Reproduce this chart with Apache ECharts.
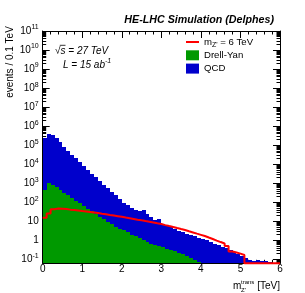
<!DOCTYPE html>
<html><head><meta charset="utf-8">
<script src="https://cdn.jsdelivr.net/npm/echarts@6/dist/echarts.min.js"></script>
<style>html,body{margin:0;padding:0;background:#fff}#c{width:305px;height:293px}</style>
</head><body><div id="c"></div>
<script>
// ---- data ----
const binEdges = [0,0.1,0.2,0.3,0.4,0.5,0.6,0.7,0.8,0.9,
  1,1.1,1.2,1.3,1.4,1.5,1.6,1.7,1.8,1.9,
  2,2.1,2.2,2.3,2.4,2.5,2.6,2.7,2.8,2.9,
  3,3.1,3.2,3.3,3.4,3.5,3.6,3.7,3.8,3.9,
  4,4.1,4.2,4.3,4.4,4.5,4.6,4.7,4.8,4.9,
  5,5.1,5.2,5.3,5.4,5.5,5.6,5.7,5.8,5.9,6];

const dyValues = [440,1060,800,610,440,320,230,165,120,88,
  65,46,33,24,17.5,12.5,9.2,6.8,5.2,4.0,
  3.3,2.6,2.0,1.6,1.25,1.0,0.82,0.68,0.56,0.48,
  0.42,0.36,0.31,0.26,0.22,0.19,0.15,0.12,0.095,0.075,
  0,0,0,0,0,0,0,0,0,0,
  0,0,0,0,0,0,0,0,0,0];

const qcdValues = [239000,383000,359000,249000,145600,84300,51800,31800,20900,13700,
  7900,5150,3170,2080,1280,838,551,358,235,153,
  93.7,68.4,48,37.4,33.2,40,23.2,17.0,11.0,13.4,
  7.2,5.9,4.8,3.9,3.04,2.53,2.12,1.77,1.59,1.33,
  1.17,1.03,0.81,0.68,0.56,0.47,0.39,0.31,0.24,0.19,
  0.149,0.117,0.098,0.086,0.092,0.081,0.086,0.072,0,0];

const signalValues = [15.5,26,43,46.7,46,44,41,39,36.7,34.5,
  32.5,30.6,28.8,27.1,24.9,23.2,21.5,20,18.6,17.1,
  15.7,14.5,13.3,12.2,11.2,10.3,9.5,8.7,7.9,7.2,
  6.3,5.6,5.0,4.4,3.9,3.5,3.0,2.6,2.24,1.94,
  1.68,1.40,1.17,0.97,0.81,0.68,0.50,0.26,0.23,0.20,
  0.17,0,0,0,0,0,0,0,0,0];

const yMajorTicks = [0.1,1,10,1e2,1e3,1e4,1e5,1e6,1e7,1e8,1e9,1e10,1e11];
const yMinorFactors = [2,3,4,5,6,7,8,9];
const xTickLabels = ['0','1','2','3','4','5','6'];

const seriesNames = { signal: "mZ' = 6 TeV", dy: 'Drell-Yan', qcd: 'QCD' };

// ---- setup ----
const FONT = '"Liberation Sans", Arial, Helvetica, sans-serif';
const yMin = 0.062, yMax = 1e11;

const yMinorTicks = [0.07, 0.08, 0.09];
yMajorTicks.slice(0, -1).forEach(d => yMinorFactors.forEach(f => yMinorTicks.push(f * d)));

// histogram bins as [lowEdge, highEdge, bottom, top]; QCD stacked on Drell-Yan
const dyBins = dyValues.map((v, i) => [binEdges[i], binEdges[i + 1], 0, v]);
const qcdBins = qcdValues.map((v, i) => [binEdges[i], binEdges[i + 1], dyValues[i], dyValues[i] + v]);

// signal outline as a step line: one point per low edge plus the last high edge
const signalLine = binEdges.map((e, i) => {
  const v = signalValues[Math.min(i, signalValues.length - 1)];
  return [e, v > 0 ? v : yMin];
});

function yLabel(v) {
  const e = Math.round(Math.log10(v));
  if (Math.abs(Math.log10(v) - e) > 1e-6) return '';
  if (e === 0) return '1';
  if (e === 1) return '10';
  return '10{s|' + e + '}';
}

function histRender(color) {
  return function (params, api) {
    const x0 = api.value(0), x1 = api.value(1), lo = api.value(2), hi = api.value(3);
    if (!(hi > yMin) || !(hi > lo)) return null;
    const pTop = api.coord([x0, hi]);
    const pBot = api.coord([x1, Math.max(lo, yMin)]);
    const left = Math.round(pTop[0]), right = Math.round(pBot[0]);
    const top = Math.round(pTop[1]), bottom = Math.round(pBot[1]);
    return {
      type: 'rect',
      shape: { x: left, y: top, width: right - left, height: bottom - top },
      style: { fill: color }
    };
  };
}

const yBase = { type: 'log', logBase: 10, min: yMin, max: yMax, splitLine: { show: false }, minorTick: { show: false } };
const black = { color: '#000', width: 1 };

const yAxes = [
  Object.assign({}, yBase, { position: 'left',
    axisLine: { show: true, lineStyle: black },
    axisTick: { show: true, inside: true, length: 7, customValues: yMajorTicks, lineStyle: black },
    axisLabel: { show: true, customValues: yMajorTicks, formatter: yLabel, margin: 4, fontSize: 10, lineHeight: 14,
      fontFamily: FONT, color: '#000', rich: { s: { fontSize: 7, lineHeight: 7, verticalAlign: 'top', fontFamily: FONT, color: '#000' } } } }),
  Object.assign({}, yBase, { position: 'left', axisLine: { show: false },
    axisTick: { show: true, inside: true, length: 3.5, customValues: yMinorTicks, lineStyle: black },
    axisLabel: { show: false } }),
  Object.assign({}, yBase, { position: 'right', axisLine: { show: true, lineStyle: black },
    axisTick: { show: true, inside: true, length: 7, customValues: yMajorTicks, lineStyle: black },
    axisLabel: { show: false } }),
  Object.assign({}, yBase, { position: 'right', axisLine: { show: false },
    axisTick: { show: true, inside: true, length: 3.5, customValues: yMinorTicks, lineStyle: black },
    axisLabel: { show: false } })
];

const xBase = { type: 'value', min: 0, max: 6, interval: 1, splitLine: { show: false },
  axisLine: { show: true, onZero: false, lineStyle: black },
  axisTick: { show: true, inside: true, length: 7, lineStyle: black },
  minorTick: { show: true, splitNumber: 5, length: 3.5, lineStyle: black } };

const xAxes = [
  Object.assign({}, xBase, { position: 'bottom',
    axisLabel: { show: true, formatter: v => xTickLabels[Math.round(v)] || '', margin: 1, fontSize: 10, lineHeight: 10, fontFamily: FONT, color: '#000' } }),
  Object.assign({}, xBase, { position: 'top', axisLabel: { show: false } })
];

const GREEN = '#009900', BLUE = '#0000cc', RED = '#ff0000';
const lineIcon = 'path://M0,0h0.01v0.01h-0.01z M0,4.1h13v1.8h-13z M0,9.99h0.01v0.01h-0.01z';

const option = {
  animation: false,
  backgroundColor: '#fff',
  grid: { left: 42.7, right: 25, top: 31, bottom: 29.7, containLabel: false },
  xAxis: xAxes,
  yAxis: yAxes,
  legend: {
    orient: 'vertical', left: 186, top: 35.5, padding: 0, itemWidth: 13, itemHeight: 10, itemGap: 0.3,
    selectedMode: false,
    textStyle: { fontSize: 9.6, lineHeight: 13, fontFamily: FONT, color: '#000',
      rich: { sub: { fontSize: 7, lineHeight: 7, verticalAlign: 'bottom', fontFamily: FONT, color: '#000' } } },
    formatter: name => name === seriesNames.signal ? "m{sub|Z'} = 6 TeV" : name,
    data: [ { name: seriesNames.signal, icon: lineIcon }, { name: seriesNames.dy, icon: 'rect' }, { name: seriesNames.qcd, icon: 'rect' } ]
  },
  series: [
    { name: seriesNames.dy, type: 'custom', data: dyBins, renderItem: histRender(GREEN),
      encode: { x: [0, 1], y: [2, 3] }, xAxisIndex: 0, yAxisIndex: 0, color: GREEN, itemStyle: { color: GREEN },
      clip: true, silent: true, z: 2 },
    { name: seriesNames.qcd, type: 'custom', data: qcdBins, renderItem: histRender(BLUE),
      encode: { x: [0, 1], y: [2, 3] }, xAxisIndex: 0, yAxisIndex: 0, color: BLUE, itemStyle: { color: BLUE },
      clip: true, silent: true, z: 2 },
    { name: seriesNames.signal, type: 'line', step: 'end', symbol: 'none', data: signalLine,
      xAxisIndex: 0, yAxisIndex: 0, color: RED,
      lineStyle: { width: 2, color: RED }, itemStyle: { color: RED }, z: 5, clip: false, silent: true, emphasis: { disabled: true } }
  ],
  graphic: [
    { type: 'text', x: 274, y: 20, style: { text: 'HE-LHC Simulation (Delphes)', align: 'right', verticalAlign: 'middle',
        font: 'italic bold 10.7px ' + FONT, fill: '#000' } },
    { type: 'text', x: 55, y: 51, style: { text: '\u221As = 27 TeV', align: 'left', verticalAlign: 'middle',
        font: 'italic 10px ' + FONT, fill: '#000' } },
    { type: 'line', shape: { x1: 59.8, y1: 45.3, x2: 65.5, y2: 45.3 }, style: { stroke: '#000', lineWidth: 0.8 } },
    { type: 'text', x: 63, y: 65, style: { text: 'L = 15 ab{s|-1}', align: 'left', verticalAlign: 'middle',
        font: 'italic 10px ' + FONT, fill: '#000', lineHeight: 14,
        rich: { s: { fontSize: 7, lineHeight: 7, verticalAlign: 'top', fontStyle: 'italic', fontFamily: FONT, fill: '#000' } } } },
    { type: 'text', x: 10.5, y: 62, rotation: Math.PI / 2, style: { text: 'events / 0.1 TeV', align: 'center', verticalAlign: 'middle',
        font: '10px ' + FONT, fill: '#000' } },
    { type: 'text', x: 233, y: 286, style: { text: 'm', align: 'left', verticalAlign: 'middle', font: '10px ' + FONT, fill: '#000' } },
    { type: 'text', x: 241, y: 282.5, style: { text: 'trans', align: 'left', verticalAlign: 'middle', font: '6px ' + FONT, fill: '#000' } },
    { type: 'text', x: 241, y: 290, style: { text: "Z'", align: 'left', verticalAlign: 'middle', font: '6px ' + FONT, fill: '#000' } },
    { type: 'text', x: 280, y: 286, style: { text: '[TeV]', align: 'right', verticalAlign: 'middle', font: '10px ' + FONT, fill: '#000' } }
  ]
};

const chart = echarts.init(document.getElementById('c'), null, { renderer: 'canvas' });
chart.setOption(option);
</script>
</body></html>
